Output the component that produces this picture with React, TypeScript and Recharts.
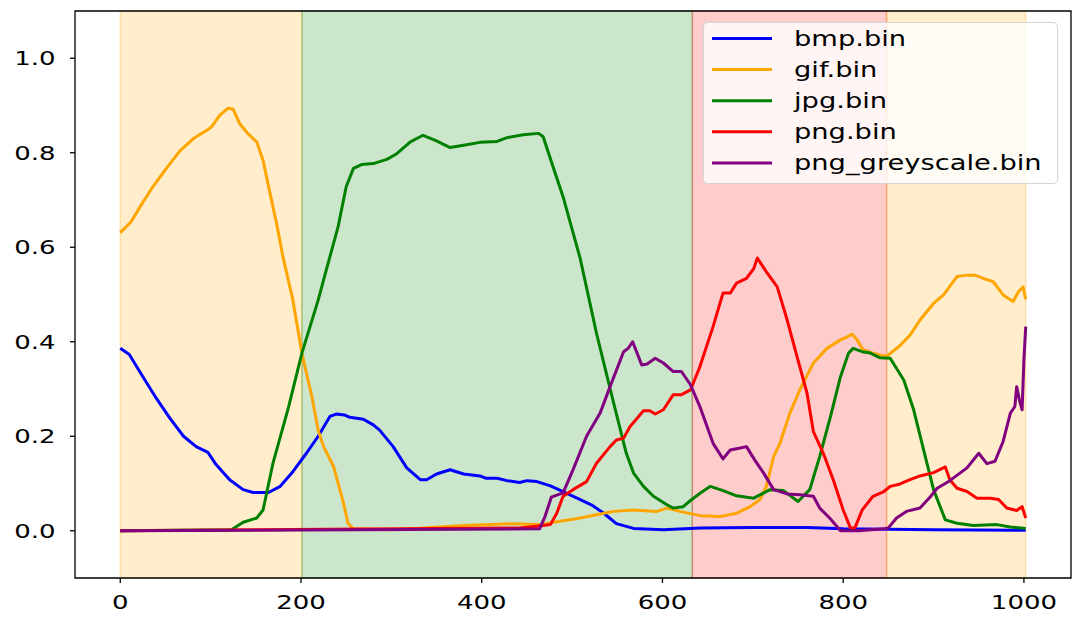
import { LineChart, Line, XAxis, YAxis, ReferenceArea, Legend } from "recharts";

const X_TICKS = [0, 200, 400, 600, 800, 1000];
const Y_TICKS = [0, 0.2, 0.4, 0.6, 0.8, 1.0];
const X_DOMAIN: [number, number] = [-50.1, 1052.1];
const Y_DOMAIN: [number, number] = [-0.1, 1.1];

// shaded regions (offset ranges of each file type)
const BAND_STARTS = [0, 201, 633, 848];
const BAND_ENDS = [201, 633, 848, 1002];
const BAND_COLORS = ["orange", "green", "red", "orange"];

// [offset, probability]
const bmp: [number, number][] = [
  [0, 0.386], [10, 0.373], [25, 0.326], [40, 0.28], [55, 0.238], [70, 0.2], [84, 0.178], [97, 0.166],
  [106, 0.14], [121, 0.108], [136, 0.087], [147, 0.081], [164, 0.081], [177, 0.094], [191, 0.125],
  [206, 0.164], [219, 0.2], [232, 0.242], [239, 0.247], [248, 0.245], [254, 0.24], [269, 0.236],
  [280, 0.224], [287, 0.213], [302, 0.178], [317, 0.133], [332, 0.108], [339, 0.108], [350, 0.12],
  [365, 0.129], [380, 0.12], [398, 0.116], [405, 0.111], [417, 0.111], [428, 0.106], [442, 0.102],
  [450, 0.106], [461, 0.104], [476, 0.095], [490, 0.083], [509, 0.066], [523, 0.053], [535, 0.037],
  [549, 0.015], [568, 0.005], [601, 0.002], [642, 0.006], [700, 0.007], [760, 0.007], [800, 0.004],
  [900, 0.002], [1002, 0.001],
];

const gif: [number, number][] = [
  [0, 0.631], [12, 0.654], [22, 0.686], [36, 0.728], [51, 0.767], [66, 0.804], [81, 0.83], [97, 0.849],
  [101, 0.855], [110, 0.879], [119, 0.894], [125, 0.892], [132, 0.862], [141, 0.841], [151, 0.823],
  [158, 0.784], [165, 0.721], [173, 0.65], [180, 0.58], [191, 0.488], [201, 0.376], [212, 0.284],
  [219, 0.213], [225, 0.178], [236, 0.136], [247, 0.059], [252, 0.016], [258, 0.004], [300, 0.002],
  [324, 0.004], [380, 0.011], [435, 0.015], [464, 0.013], [487, 0.02], [509, 0.027], [527, 0.034],
  [546, 0.041], [568, 0.044], [594, 0.041], [605, 0.048], [619, 0.041], [642, 0.032], [664, 0.03],
  [682, 0.037], [697, 0.051], [708, 0.066], [715, 0.094], [723, 0.157], [730, 0.185], [741, 0.249],
  [752, 0.298], [767, 0.355], [782, 0.386], [797, 0.404], [804, 0.41], [810, 0.416], [815, 0.405],
  [822, 0.383], [833, 0.376], [848, 0.369], [863, 0.392], [874, 0.414], [885, 0.446], [900, 0.481],
  [911, 0.499], [926, 0.538], [937, 0.541], [946, 0.541], [955, 0.534], [966, 0.527], [977, 0.499],
  [988, 0.485], [994, 0.506], [999, 0.516], [1002, 0.49],
];

const jpg: [number, number][] = [
  [0, 0], [123, 0.002], [136, 0.018], [151, 0.027], [158, 0.044], [162, 0.08], [169, 0.143],
  [186, 0.26], [201, 0.376], [219, 0.488], [228, 0.552], [241, 0.643], [250, 0.728], [258, 0.767],
  [267, 0.775], [280, 0.777], [295, 0.786], [306, 0.798], [321, 0.823], [335, 0.837], [350, 0.825],
  [365, 0.811], [380, 0.816], [398, 0.822], [417, 0.824], [428, 0.832], [446, 0.838], [463, 0.841],
  [468, 0.834], [479, 0.77], [490, 0.707], [509, 0.576], [527, 0.418], [546, 0.27], [560, 0.164],
  [568, 0.122], [579, 0.094], [590, 0.073], [605, 0.055], [612, 0.048], [623, 0.051], [631, 0.064],
  [642, 0.08], [653, 0.094], [667, 0.085], [682, 0.074], [701, 0.069], [719, 0.087], [734, 0.085],
  [750, 0.062], [763, 0.087], [774, 0.157], [786, 0.242], [797, 0.326], [806, 0.376], [811, 0.386],
  [821, 0.379], [830, 0.376], [841, 0.366], [852, 0.365], [867, 0.319], [878, 0.256], [889, 0.171],
  [900, 0.087], [913, 0.023], [926, 0.016], [944, 0.011], [970, 0.013], [985, 0.008], [1002, 0.005],
];

const png: [number, number][] = [
  [0, 0], [442, 0.006], [468, 0.011], [476, 0.013], [483, 0.037], [490, 0.073], [501, 0.087],
  [516, 0.104], [527, 0.143], [542, 0.178], [549, 0.192], [557, 0.196], [564, 0.22], [579, 0.254],
  [586, 0.254], [592, 0.247], [601, 0.256], [612, 0.288], [621, 0.288], [631, 0.298], [641, 0.345],
  [656, 0.432], [667, 0.503], [675, 0.503], [682, 0.524], [693, 0.534], [701, 0.555], [705, 0.577],
  [715, 0.548], [727, 0.516], [738, 0.446], [749, 0.368], [760, 0.291], [767, 0.21], [778, 0.164],
  [789, 0.108], [800, 0.044], [808, 0.006], [813, 0.006], [821, 0.044], [833, 0.073], [845, 0.083],
  [852, 0.094], [863, 0.099], [874, 0.108], [885, 0.116], [900, 0.123], [913, 0.135], [918, 0.108],
  [926, 0.09], [937, 0.083], [948, 0.069], [963, 0.069], [972, 0.066], [981, 0.048], [992, 0.043],
  [998, 0.051], [1002, 0.027],
];

const pngGrey: [number, number][] = [
  [0, 0], [464, 0.004], [470, 0.03], [477, 0.071], [490, 0.08], [501, 0.129], [516, 0.2], [531, 0.249],
  [542, 0.305], [557, 0.379], [562, 0.386], [567, 0.4], [577, 0.351], [583, 0.353], [592, 0.365],
  [601, 0.355], [612, 0.337], [621, 0.337], [631, 0.309], [642, 0.26], [656, 0.185], [667, 0.152],
  [675, 0.171], [686, 0.175], [693, 0.178], [702, 0.15], [712, 0.122], [723, 0.087], [738, 0.078],
  [752, 0.076], [767, 0.073], [774, 0.048], [785, 0.027], [797, 0], [817, 0], [845, 0.004],
  [850, 0.006], [859, 0.027], [870, 0.041], [885, 0.048], [896, 0.071], [904, 0.09], [918, 0.106],
  [937, 0.133], [950, 0.164], [959, 0.142], [968, 0.147], [977, 0.189], [985, 0.249], [990, 0.263],
  [992, 0.305], [995, 0.277], [998, 0.256], [1000, 0.362], [1002, 0.432],
];

const SERIES_NAMES = ["bmp.bin", "gif.bin", "jpg.bin", "png.bin", "png_greyscale.bin"];
const SERIES_COLORS = ["blue", "orange", "green", "red", "purple"];
const SERIES_POINTS = [bmp, gif, jpg, png, pngGrey];

const FONT = "DejaVu Sans, sans-serif";
const STRETCH = "scale(1.3,1)";

const toRows = (pts: [number, number][]) => pts.map(([x, y]) => ({ x, y }));

function XTick({ x, y, payload }: any) {
  return (
    <text transform={`translate(${x},${y + 24}) ${STRETCH}`} textAnchor="middle" fontSize={20} fontFamily={FONT} fill="#000">
      {payload.value}
    </text>
  );
}

function YTick({ x, y, payload }: any) {
  return (
    <text transform={`translate(${x - 12.5},${y + 7}) ${STRETCH}`} textAnchor="end" fontSize={20} fontFamily={FONT} fill="#000">
      {Number(payload.value).toFixed(1)}
    </text>
  );
}

function LegendBox({ payload }: any) {
  const items = payload || [];
  return (
    <svg width={356} height={164} style={{ display: "block" }}>
      <rect x={0.5} y={0.5} width={354} height={161} rx={4} fill="#fff" fillOpacity={0.8} stroke="#d4d4d4" />
      {items.map((p: any, i: number) => {
        const cy = 16.5 + i * 31.1;
        return (
          <g key={p.value}>
            <line x1={9} x2={69} y1={cy} y2={cy} stroke={p.color} strokeWidth={3} />
            <text transform={`translate(91,${cy + 7}) ${STRETCH}`} fontSize={21} fontFamily={FONT} fill="#000">
              {p.value}
            </text>
          </g>
        );
      })}
    </svg>
  );
}

export default function App() {
  return (
    <div style={{ position: "absolute", left: 0, top: 0, background: "#fff" }}>
      <LineChart width={1073} height={618} margin={{ top: 11, right: 2, bottom: 0, left: 0 }}>
        {BAND_STARTS.map((s, i) => (
          <ReferenceArea
            key={i}
            x1={s}
            x2={BAND_ENDS[i]}
            fill={BAND_COLORS[i]}
            fillOpacity={0.2}
            stroke={BAND_COLORS[i]}
            strokeOpacity={0.25}
            strokeWidth={1.5}
          />
        ))}
        <XAxis
          type="number"
          dataKey="x"
          domain={X_DOMAIN}
          ticks={X_TICKS}
          interval={0}
          allowDataOverflow
          height={40}
          axisLine={false}
          tickSize={5}
          tickMargin={2}
          tickLine={{ stroke: "#000", strokeWidth: 1.3 }}
          tick={<XTick />}
        />
        <YAxis
          type="number"
          domain={Y_DOMAIN}
          ticks={Y_TICKS}
          interval={0}
          allowDataOverflow
          width={75}
          axisLine={false}
          tickSize={5}
          tickMargin={2}
          tickLine={{ stroke: "#000", strokeWidth: 1.3 }}
          tick={<YTick />}
        />
        {SERIES_POINTS.map((pts, i) => (
          <Line
            key={SERIES_NAMES[i]}
            data={toRows(pts)}
            dataKey="y"
            name={SERIES_NAMES[i]}
            type="linear"
            stroke={SERIES_COLORS[i]}
            strokeWidth={3}
            strokeLinejoin="round"
            dot={false}
            activeDot={false}
            isAnimationActive={false}
          />
        ))}
        <ReferenceArea
          x1={X_DOMAIN[0]}
          x2={X_DOMAIN[1]}
          y1={Y_DOMAIN[0]}
          y2={Y_DOMAIN[1]}
          fill="none"
          stroke="#000"
          strokeWidth={1.3}
          ifOverflow="visible"
        />
        <Legend
          layout="vertical"
          align="center"
          verticalAlign="middle"
          wrapperStyle={{ left: 703, top: 22, width: 356, height: 164 }}
          content={<LegendBox />}
        />
      </LineChart>
    </div>
  );
}
